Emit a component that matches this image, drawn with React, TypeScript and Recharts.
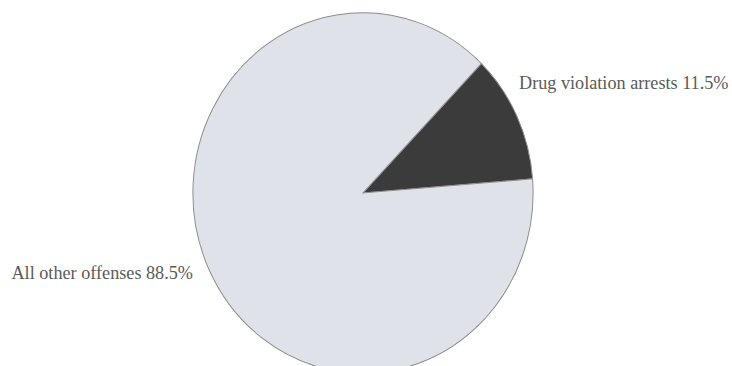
import React from "react";
import { PieChart, Pie, Cell } from "recharts";

// Share of arrests by offense type
const categories = ["Drug violation arrests", "All other offenses"];
const shares = [11.5, 88.5];
const colors = ["#3b3b3c", "#dfe2e8"];

const data = categories.map((name, i) => ({ name, value: shares[i] }));

/**
 * Plain serif labels set beside the pie, left of it for the big slice.
 */
const renderLabel = ({ cx, cy, index, name, value }: any) => {
  const isDrug = index === 0;
  return (
    <text
      x={isDrug ? cx + 156 : cx - 170}
      y={isDrug ? cy - 104 : cy + 86}
      textAnchor={isDrug ? "start" : "end"}
      fill="#5a5a5a"
      style={{ fontFamily: "'Liberation Serif', serif", fontSize: 18.2 }}
    >
      {`${name} ${value}%`}
    </text>
  );
};

const App: React.FC = () => {
  return (
    <div>
      <style>{`
        body { margin: 0; overflow: hidden; }
        .recharts-pie-sector {
          transform: scale(0.972, 1.03);
          transform-origin: 363px 193px;
        }
      `}</style>
      <PieChart width={732} height={366} margin={{ top: 0, right: 0, bottom: 0, left: 0 }}>
        <Pie
          data={data}
          dataKey="value"
          nameKey="name"
          cx={363}
          cy={193}
          outerRadius={175}
          startAngle={4.5}
          endAngle={364.5}
          stroke="#8c8c8c"
          strokeWidth={1}
          label={renderLabel}
          labelLine={false}
          isAnimationActive={false}
        >
          {data.map((entry, i) => (
            <Cell key={entry.name} fill={colors[i]} />
          ))}
        </Pie>
      </PieChart>
    </div>
  );
};

export default App;
